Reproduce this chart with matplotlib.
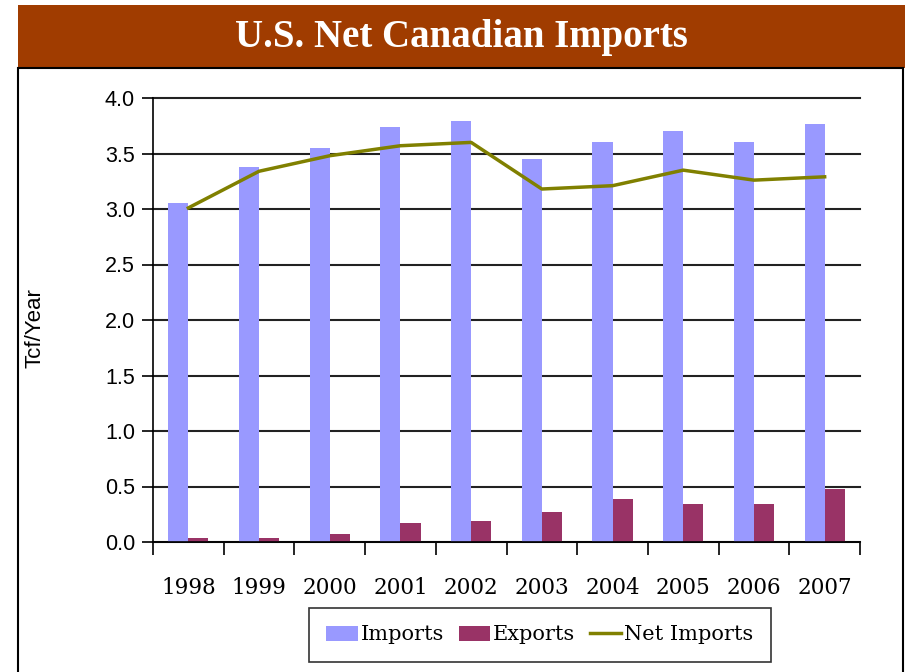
import numpy as np
import matplotlib.pyplot as plt
import matplotlib as mpl
from matplotlib.patches import Rectangle

years = ['1998', '1999', '2000', '2001', '2002', '2003', '2004', '2005', '2006', '2007']
imports = [3.05, 3.38, 3.55, 3.74, 3.79, 3.45, 3.60, 3.70, 3.60, 3.77]
exports = [0.04, 0.04, 0.07, 0.17, 0.19, 0.27, 0.39, 0.34, 0.34, 0.48]
net_imports = [3.01, 3.34, 3.48, 3.57, 3.60, 3.18, 3.21, 3.35, 3.26, 3.29]

serif = ['DejaVu Serif']
title_font = ['Liberation Serif', 'DejaVu Serif']
sans = ['Liberation Sans', 'DejaVu Sans']

fig = plt.figure(figsize=(9.1, 6.72), dpi=100)

# brown title band and framed white box below it
fig.patches.append(Rectangle((18/910, 1 - 68/672), 887/910, 63/672,
                             transform=fig.transFigure, facecolor='#A03C00',
                             edgecolor='none', zorder=-2))
fig.patches.append(Rectangle((18/910, -0.01), 885/910, 1 - 68/672 + 0.01,
                             transform=fig.transFigure, facecolor='white',
                             edgecolor='black', linewidth=1.5, zorder=-2))
fig.text(0.5 + 6/910, 1 - 37/672, 'U.S. Net Canadian Imports', color='white',
         fontsize=28, fontweight='bold', family=title_font, ha='center', va='center')

ax = fig.add_axes([153/910, 1 - 542/672, 707/910, 444/672])
ax.set_zorder(2)
x = np.arange(len(years))
w = 0.285
b1 = ax.bar(x - w/2, imports, w, color='#9999FF', label='Imports', zorder=2)
b2 = ax.bar(x + w/2, exports, w, color='#993366', label='Exports', zorder=2)
l1, = ax.plot(x, net_imports, color='#808000', linewidth=2.5, label='Net Imports', zorder=3)

ax.set_xlim(-0.5, len(years) - 0.5)
ax.set_ylim(0, 4.0)
yt = np.arange(0, 4.01, 0.5)
ax.set_yticks(yt)
ax.set_yticklabels(['%.1f' % v for v in yt], family=sans, fontsize=15.5)
ax.yaxis.grid(True, color='#222222', linewidth=1.5, zorder=1)
for g in ax.get_ygridlines():
    g.set_clip_on(False)
ax.set_axisbelow(True)

# x ticks at category boundaries, labels at centres
ax.set_xticks(np.arange(-0.5, len(years), 1.0))
ax.set_xticklabels([])
ax.set_xticks(x, minor=True)
ax.set_xticklabels(years, minor=True, family=serif, fontsize=15.5)
ax.tick_params(axis='x', which='major', length=9, width=1.2, direction='out')
ax.tick_params(axis='x', which='minor', length=0, pad=25)
ax.tick_params(axis='y', length=8, width=1.2, direction='out', pad=5)

for s in ['top', 'right']:
    ax.spines[s].set_visible(False)
ax.spines['left'].set_linewidth(1.2)
ax.spines['bottom'].set_linewidth(1.2)

fig.text(35/910, 1 - 328/672, 'Tcf/Year', rotation=90, family=sans, fontsize=16,
         ha='center', va='center')

leg = ax.legend([b1, b2, l1], ['Imports', 'Exports', 'Net Imports'],
                loc='center', bbox_to_anchor=(540/910, 1 - 635/672),
                bbox_transform=fig.transFigure, ncol=3, frameon=True,
                fancybox=False, edgecolor='black', prop={'family': serif, 'size': 15},
                handlelength=1.5, handletextpad=0.15, columnspacing=0.7,
                borderpad=0.85)
leg.get_frame().set_linewidth(1.2)

fig.savefig('out.png', dpi=100)
